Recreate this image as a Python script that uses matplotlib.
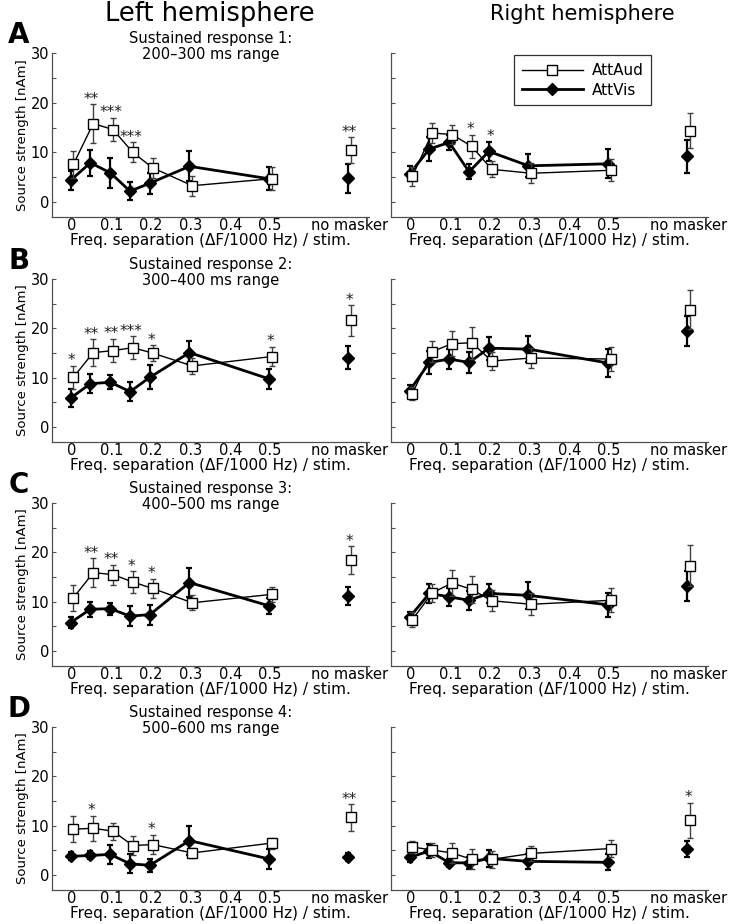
import numpy as np
import matplotlib
matplotlib.use("Agg")
from matplotlib import pyplot as plt
from matplotlib.lines import Line2D

plt.rcParams['font.family'] = ['DejaVu Sans']

# x categories: 7 frequency separations + "no masker"
freq_sep = [0, 0.05, 0.1, 0.15, 0.2, 0.3, 0.5]
no_masker_x = 0.7
tick_pos = [0, 0.1, 0.2, 0.3, 0.4, 0.5, 0.7]
tick_labels = ['0', '0.1', '0.2', '0.3', '0.4', '0.5', 'no masker']

panel_letters = ['A', 'B', 'C', 'D']
panel_titles = ['Sustained response 1:\n200\u2013300 ms range',
                'Sustained response 2:\n300\u2013400 ms range',
                'Sustained response 3:\n400\u2013500 ms range',
                'Sustained response 4:\n500\u2013600 ms range']

# AttAud (open squares); last value = no masker
aud_left = [[7.6, 15.8, 14.6, 10.0, 6.9, 3.3, 4.7, 10.4],
            [10.1, 15.1, 15.5, 16.1, 15.0, 12.4, 14.3, 21.6],
            [10.8, 15.9, 15.5, 14.0, 12.7, 9.8, 11.5, 18.4],
            [9.3, 9.5, 8.9, 6.0, 6.2, 4.5, 6.5, 11.7]]
aud_left_err = [[2.7, 3.9, 2.4, 2.0, 2.0, 2.0, 2.3, 2.6],
                [2.3, 2.7, 2.4, 2.3, 1.6, 1.6, 2.0, 3.1],
                [2.6, 2.9, 2.0, 2.2, 2.0, 1.5, 1.5, 2.8],
                [2.6, 2.5, 1.7, 1.9, 2.0, 1.0, 1.1, 2.7]]
aud_right = [[5.2, 13.9, 13.6, 11.2, 6.6, 5.8, 6.4, 14.4],
             [6.8, 15.3, 16.9, 17.1, 13.4, 14.0, 13.8, 23.8],
             [6.4, 11.8, 13.8, 12.5, 10.2, 9.5, 10.3, 17.3],
             [5.7, 5.1, 4.5, 3.2, 3.2, 4.4, 5.4, 11.1]]
aud_right_err = [[1.9, 2.0, 1.9, 2.4, 1.6, 2.0, 2.2, 3.6],
                 [1.3, 2.1, 2.5, 3.2, 1.9, 2.1, 2.4, 4.0],
                 [1.6, 1.9, 2.7, 2.8, 2.1, 2.2, 2.4, 4.1],
                 [1.2, 1.4, 2.0, 2.0, 1.7, 1.5, 1.7, 3.6]]

# AttVis (filled diamonds)
vis_left = [[4.4, 7.9, 5.9, 2.2, 3.8, 7.2, 4.7, 4.8],
            [5.9, 8.8, 9.1, 7.2, 10.1, 15.1, 9.8, 14.1],
            [5.8, 8.5, 8.6, 7.1, 7.4, 13.9, 9.2, 11.2],
            [3.8, 4.0, 4.2, 2.3, 2.0, 7.0, 3.3, 3.7]]
vis_left_err = [[1.9, 2.6, 3.0, 1.8, 2.1, 3.0, 2.3, 2.9],
                [1.8, 1.9, 1.4, 1.9, 2.4, 2.4, 2.0, 2.4],
                [1.1, 1.5, 1.2, 2.0, 2.0, 3.0, 1.6, 1.8],
                [0.8, 0.8, 2.0, 1.9, 1.3, 2.9, 2.1, 0.8]]
vis_right = [[5.7, 10.7, 12.0, 6.1, 10.2, 7.3, 7.7, 9.2],
             [7.4, 13.1, 13.8, 13.1, 16.0, 15.8, 13.0, 19.5],
             [6.9, 11.7, 11.0, 10.3, 11.7, 11.3, 9.4, 13.2],
             [3.6, 4.9, 2.5, 2.5, 3.4, 2.8, 2.6, 5.3]]
vis_right_err = [[1.5, 2.4, 1.6, 1.5, 1.9, 2.3, 2.9, 3.3],
                 [1.1, 2.4, 2.0, 2.1, 2.3, 2.7, 2.9, 3.0],
                 [1.1, 1.9, 1.8, 1.9, 1.9, 2.7, 2.4, 3.0],
                 [1.0, 1.4, 0.8, 1.2, 1.7, 1.5, 1.6, 1.7]]

# significance stars: index into the 8 conditions -> label
stars_left = [{1: '**', 2: '***', 3: '***', 7: '**'},
              {0: '*', 1: '**', 2: '**', 3: '***', 4: '*', 6: '*', 7: '*'},
              {1: '**', 2: '**', 3: '*', 4: '*', 7: '*'},
              {1: '*', 4: '*', 7: '**'}]
stars_right = [{3: '*', 4: '*'}, {}, {}, {7: '*'}]

W, H = 737, 924
fig = plt.figure(figsize=(W / 100, H / 100), dpi=100)

# axes boxes in pixels: (left, right) and (top, bottom)
col_x = [(52, 369), (391, 708)]
row_y = [(53, 217), (279, 442), (503, 666), (727, 890)]
spine_col = '#505050'
tick_fs = 10.5


def draw_panel(ax, aud, aud_err, vis, vis_err, stars):
    xs = np.array(freq_sep + [no_masker_x])
    aud = np.array(aud)
    vis = np.array(vis)
    aud_err = np.array(aud_err)
    vis_err = np.array(vis_err)
    n = len(freq_sep)

    # AttVis: thick line, black diamonds
    ax.errorbar(xs - 0.003, vis, yerr=vis_err, fmt='none', ecolor='black',
                elinewidth=1.6, capsize=2.5, capthick=1.6, zorder=2)
    ax.plot(xs[:n] - 0.003, vis[:n], color='black', lw=2.0, zorder=3)
    ax.plot(xs - 0.003, vis, ls='none', marker='D', ms=6.3, mfc='black',
            mec='black', zorder=4)

    # AttAud: thin line, open squares
    ax.errorbar(xs + 0.004, aud, yerr=aud_err, fmt='none', ecolor='#404040',
                elinewidth=1.0, capsize=2.5, capthick=1.0, zorder=5)
    ax.plot(xs[:n] + 0.004, aud[:n], color='black', lw=1.0, zorder=6)
    ax.plot(xs + 0.004, aud, ls='none', marker='s', ms=6.5, mfc='white',
            mec='black', mew=1.0, zorder=7)

    for i, s in stars.items():
        top = max(aud[i] + aud_err[i], vis[i] + vis_err[i])
        ax.text(xs[i], top + 1.0, s, ha='center', va='center',
                fontsize=11, color='#202020')

    ax.set_xlim(-0.05, 0.75)
    ax.set_ylim(-3, 30)
    ax.set_xticks(tick_pos)
    ax.set_xticklabels(tick_labels, fontsize=tick_fs)
    ax.set_yticks(np.arange(0, 31, 5))
    ax.tick_params(axis='x', length=0, pad=1)
    ax.tick_params(axis='y', direction='in', length=3, color=spine_col,
                   labelsize=tick_fs, pad=2)
    for side in ['top', 'right']:
        ax.spines[side].set_visible(False)
    for side in ['left', 'bottom']:
        ax.spines[side].set_color(spine_col)
        ax.spines[side].set_linewidth(0.9)
    ax.set_xlabel('Freq. separation (\u0394F/1000 Hz) / stim.',
                  fontsize=11, labelpad=0)


for r in range(4):
    for c in range(2):
        x0, x1 = col_x[c]
        y0, y1 = row_y[r]
        ax = fig.add_axes([x0 / W, 1 - y1 / H, (x1 - x0) / W, (y1 - y0) / H])
        if c == 0:
            draw_panel(ax, aud_left[r], aud_left_err[r], vis_left[r],
                       vis_left_err[r], stars_left[r])
            ax.set_yticklabels(['0', '', '10', '', '20', '', '30'])
            ax.set_ylabel('Source strength [nAm]', fontsize=9.5, labelpad=1)
            ax.text(0.5, 1.04, panel_titles[r], transform=ax.transAxes,
                    ha='center', va='center', fontsize=10.5, linespacing=1.1)
            fig.text(19 / W, 1 - (row_y[r][0] - 18) / H, panel_letters[r],
                     ha='center', va='center', fontsize=20, fontweight='bold')
        else:
            draw_panel(ax, aud_right[r], aud_right_err[r], vis_right[r],
                       vis_right_err[r], stars_right[r])
            ax.set_yticklabels([])
            if r == 0:
                handles = [
                    Line2D([], [], color='black', lw=1.0, marker='s', ms=6.5,
                           mfc='white', mec='black'),
                    Line2D([], [], color='black', lw=2.0, marker='D', ms=6.3,
                           mfc='black', mec='black'),
                ]
                leg = ax.legend(handles, ['AttAud', 'AttVis'], loc='upper left',
                                bbox_to_anchor=(0.388, 0.985), borderaxespad=0,
                                fontsize=11, handlelength=4.0, fancybox=False,
                                framealpha=1, edgecolor='#303030',
                                borderpad=0.5, labelspacing=0.3,
                                handletextpad=0.6)
                leg.get_frame().set_linewidth(0.9)

fig.text(210 / W, 1 - 14 / H, 'Left hemisphere', ha='center', va='center',
         fontsize=18.5)
fig.text(582 / W, 1 - 14 / H, 'Right hemisphere', ha='center', va='center',
         fontsize=15)

fig.savefig('out.png', dpi=100, facecolor='white')
